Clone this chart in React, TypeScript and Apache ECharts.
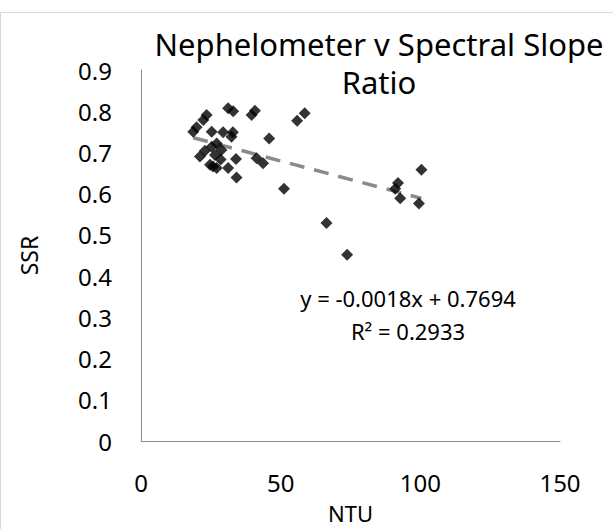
import React, { useEffect, useRef } from "react";
import * as echarts from "echarts";

const ntu: number[] = [18.7, 19.9, 22.3, 23.5, 31.2, 33.0, 39.6, 40.8, 55.9, 58.6, 25.3, 29.4, 32.9, 45.9, 22.9, 25.3, 27.1, 26.5, 24.7, 27.1, 28.8, 34.0, 31.2, 34.2, 41.4, 43.7, 51.2, 66.4, 73.8, 100.4, 92.0, 91.0, 92.8, 99.5, 21.1, 28.5, 32.4, 25.8];
const ssr: number[] = [0.750, 0.761, 0.779, 0.791, 0.807, 0.800, 0.791, 0.801, 0.777, 0.795, 0.750, 0.749, 0.749, 0.734, 0.704, 0.714, 0.722, 0.694, 0.670, 0.662, 0.706, 0.684, 0.662, 0.639, 0.686, 0.674, 0.612, 0.529, 0.452, 0.658, 0.626, 0.612, 0.589, 0.576, 0.690, 0.683, 0.738, 0.666];
const slope = -0.0018;
const intercept = 0.7694;
const rSquared = "0.2933";
const titleLines = ["Nephelometer v Spectral Slope", "Ratio"];
const xTicks = { min: 0, max: 150, interval: 50 };
const yTicks = { min: 0, max: 0.9, interval: 0.1 };

export default function App() {
  const ref = useRef<HTMLDivElement>(null);
  useEffect(() => {
    document.body.style.margin = "0";
    if (!ref.current) return;
    const chart = echarts.init(ref.current, null, { renderer: "svg" });
    const pts = ntu.map((x, i) => [x, ssr[i]]);
    const xMin = Math.min(...ntu);
    const xMax = Math.max(...ntu);
    const trend = [
      [xMin, slope * xMin + intercept],
      [xMax, slope * xMax + intercept],
    ];
    const font = "Noto Sans";
    chart.setOption({
      animation: false,
      backgroundColor: "#fff",
      textStyle: { fontFamily: font },
      grid: { left: 141, right: 53, top: 70, bottom: 87.5 },
      xAxis: {
        type: "value",
        min: xTicks.min,
        max: xTicks.max,
        interval: xTicks.interval,
        name: "NTU",
        nameLocation: "middle",
        nameGap: 61,
        nameTextStyle: { fontSize: 22, color: "#000", fontFamily: font },
        axisLine: { show: true, lineStyle: { color: "#8c8c8c", width: 1 } },
        axisTick: { show: false },
        splitLine: { show: false },
        axisLabel: { fontSize: 24, color: "#000", margin: 29, fontFamily: font },
      },
      yAxis: {
        type: "value",
        min: yTicks.min,
        max: yTicks.max,
        interval: yTicks.interval,
        name: "SSR",
        nameLocation: "middle",
        nameGap: 101,
        nameRotate: 90,
        nameTextStyle: { fontSize: 23, color: "#000", fontFamily: font },
        axisLine: { show: true, lineStyle: { color: "#8c8c8c", width: 1 } },
        axisTick: { show: false },
        splitLine: { show: false },
        axisLabel: {
          fontSize: 24,
          color: "#000",
          margin: 29,
          fontFamily: font,
          formatter: (v: number) => String(Math.round(v * 10) / 10),
        },
      },
      series: [
        {
          type: "line",
          data: trend,
          symbol: "none",
          lineStyle: { color: "#8a8a8a", width: 3.5, type: [15, 10] },
          z: 1,
        },
        {
          type: "scatter",
          data: pts,
          symbol: "diamond",
          symbolSize: 12,
          itemStyle: { color: "#000" },
          z: 2,
        },
      ],
      graphic: [
        {
          type: "rect",
          shape: { x: 0.5, y: 12.5, width: 640, height: 560 },
          style: { fill: "none", stroke: "#d9d9d9", lineWidth: 1 },
          silent: true,
          z: -1,
        },
        {
          type: "text",
          x: 379,
          y: 25,
          style: {
            text: titleLines.join("\n"),
            font: `31px "${font}"`,
            lineHeight: 38,
            fill: "#000",
            align: "center",
            verticalAlign: "top",
          },
        },
        {
          type: "text",
          x: 408,
          y: 298,
          style: { text: `y = ${slope.toFixed(4)}x + ${intercept.toFixed(4)}`, font: `22px "${font}"`, fill: "#000", align: "center", verticalAlign: "middle" },
        },
        {
          type: "text",
          x: 408,
          y: 331,
          style: { text: `R² = ${rSquared}`, font: `22px "${font}"`, fill: "#000", align: "center", verticalAlign: "middle" },
        },
      ],
    });
    return () => chart.dispose();
  }, []);
  return <div ref={ref} style={{ width: 613, height: 529 }} />;
}
